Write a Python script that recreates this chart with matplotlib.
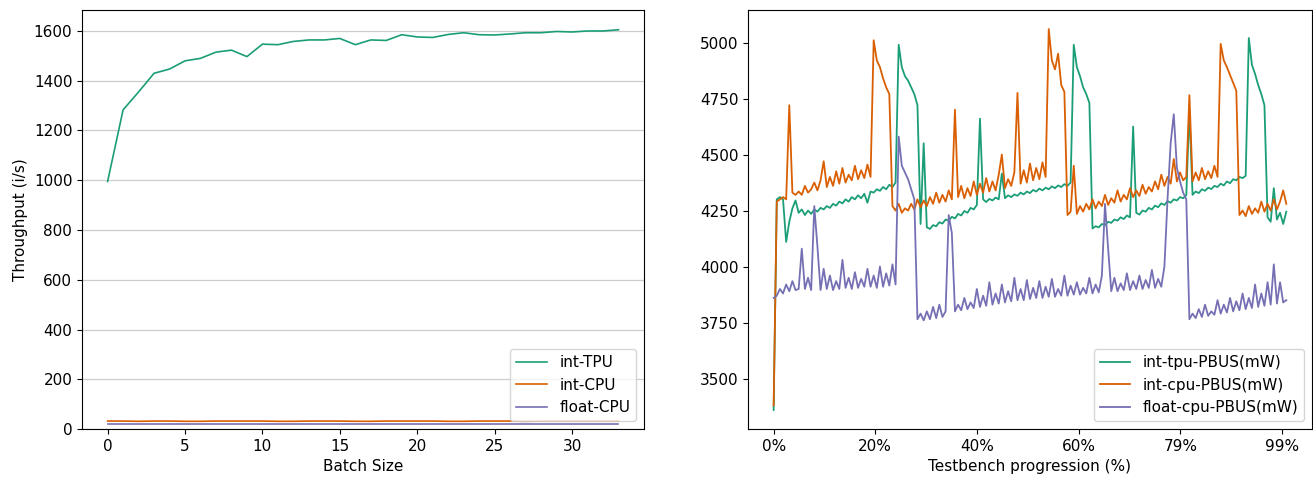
import numpy as np
import matplotlib
matplotlib.use("Agg")
import matplotlib.pyplot as plt

plt.rcParams['font.size'] = 11

colors = ["#1b9e77", "#d95f02", "#7570b3"]

# left panel: throughput vs batch size
batch = list(range(34))
int_tpu = [995, 1283, 1355, 1430, 1447, 1480, 1490, 1515, 1523, 1497,
           1547, 1545, 1558, 1564, 1564, 1570, 1545, 1564, 1562, 1585,
           1576, 1574, 1586, 1593, 1585, 1584, 1588, 1593, 1593, 1598,
           1596, 1600, 1600, 1605]
int_cpu = [32, 32, 31, 32, 32, 31, 31, 32, 32, 32,
           32, 31, 31, 32, 32, 32, 31, 31, 32, 32,
           32, 32, 31, 31, 32, 32, 32, 31, 32, 32,
           32, 32, 32, 32]
float_cpu = [19, 19, 19, 19, 19, 19, 19, 19, 19, 19,
             19, 19, 19, 19, 19, 19, 19, 19, 19, 19,
             19, 19, 19, 19, 19, 19, 19, 19, 19, 19,
             19, 19, 19, 19]

# right panel: PBUS power during the testbench (every ~61st sample)
total_samples = 10080
sample_step = 61.5

tpu_pbus = [3360, 4300, 4310, 4300, 4110, 4200, 4260, 4295, 4240, 4255,
            4230, 4250, 4235, 4255, 4245, 4262, 4255, 4270, 4262, 4280,
            4272, 4290, 4282, 4300, 4290, 4310, 4300, 4318, 4305, 4325,
            4285, 4335, 4330, 4345, 4338, 4355, 4345, 4365, 4355, 4375,
            4990, 4890, 4850, 4830, 4800, 4770, 4720, 4190, 4550, 4175,
            4168, 4185, 4180, 4198, 4192, 4210, 4205, 4222, 4215, 4235,
            4228, 4248, 4240, 4262, 4255, 4275, 4660, 4300, 4288, 4302,
            4295, 4308, 4300, 4415, 4305, 4318, 4310, 4322, 4316, 4330,
            4322, 4335, 4328, 4342, 4335, 4348, 4340, 4352, 4345, 4358,
            4350, 4362, 4355, 4368, 4360, 4375, 4990, 4890, 4850, 4800,
            4770, 4730, 4170, 4180, 4175, 4190, 4185, 4200, 4195, 4210,
            4205, 4220, 4212, 4228, 4220, 4625, 4240, 4232, 4250, 4245,
            4262, 4255, 4272, 4265, 4282, 4275, 4292, 4285, 4300, 4295,
            4310, 4305, 4318, 4700, 4320, 4335, 4328, 4345, 4338, 4352,
            4346, 4360, 4355, 4370, 4362, 4380, 4372, 4390, 4385, 4400,
            4395, 4405, 5020, 4900, 4860, 4810, 4770, 4720, 4220, 4200,
            4350, 4210, 4240, 4190, 4245]

cpu_pbus = [3380, 4290, 4300, 4310, 4300, 4720, 4330, 4320, 4335, 4320,
            4360, 4330, 4345, 4375, 4340, 4385, 4470, 4355, 4400, 4360,
            4425, 4370, 4440, 4375, 4410, 4385, 4450, 4390, 4430, 4395,
            4455, 4400, 5010, 4920, 4890, 4840, 4800, 4770, 4270, 4250,
            4280, 4240, 4260, 4250, 4280, 4255, 4300, 4265, 4295, 4270,
            4310, 4280, 4330, 4285, 4320, 4290, 4340, 4300, 4700, 4310,
            4360, 4305, 4350, 4315, 4380, 4320, 4370, 4330, 4395, 4335,
            4380, 4340, 4410, 4500, 4350, 4390, 4360, 4420, 4775, 4370,
            4430, 4375, 4460, 4385, 4440, 4390, 4465, 4400, 5060, 4920,
            4880, 4950, 4810, 4780, 4230, 4245, 4450, 4235, 4270, 4245,
            4280, 4255, 4300, 4260, 4290, 4270, 4320, 4275, 4305, 4285,
            4340, 4290, 4320, 4300, 4350, 4310, 4340, 4315, 4365, 4325,
            4355, 4335, 4380, 4345, 4410, 4360, 4400, 4370, 4480, 4380,
            4420, 4385, 4400, 4765, 4380, 4420, 4385, 4440, 4390, 4425,
            4395, 4450, 4400, 4994, 4920, 4890, 4855, 4820, 4785, 4230,
            4250, 4225, 4270, 4235, 4260, 4240, 4290, 4245, 4280, 4250,
            4300, 4255, 4290, 4340, 4280]

float_pbus = [3860, 3870, 3900, 3880, 3920, 3890, 3935, 3895, 3900, 4080,
              3900, 3950, 3895, 4270, 4090, 3895, 3990, 3900, 3960, 3895,
              3935, 3900, 4030, 3905, 3950, 3900, 3975, 3905, 3945, 3910,
              3990, 3910, 3960, 3905, 4000, 3910, 3970, 3915, 4010, 3920,
              4580, 4450, 4420, 4390, 4345, 4300, 3765, 3790, 3760, 3800,
              3765, 3820, 3770, 3830, 3775, 3800, 4230, 4150, 3800, 3830,
              3805, 3860, 3810, 3840, 3815, 3900, 3820, 3870, 3825, 3930,
              3830, 3880, 3835, 3920, 3840, 3890, 3845, 3950, 3850, 3900,
              3850, 3940, 3855, 3905, 3860, 3935, 3860, 3910, 3865, 3945,
              3865, 3900, 3870, 3960, 3870, 3915, 3875, 3930, 3875, 3905,
              3880, 3950, 3880, 3920, 3885, 3960, 4280, 4080, 3890, 3950,
              3890, 3925, 3895, 3970, 3895, 3935, 3900, 3960, 3900, 3940,
              3905, 3985, 3905, 3945, 3910, 4000, 4300, 4550, 4680, 4440,
              4380, 4330, 4300, 3765, 3790, 3770, 3810, 3775, 3830, 3780,
              3800, 3785, 3850, 3790, 3830, 3795, 3860, 3800, 3845, 3805,
              3880, 3810, 3860, 3815, 3920, 3820, 3880, 3825, 3930, 3830,
              4010, 3835, 3930, 3840, 3850]

fig = plt.figure(figsize=(13.13, 4.84), dpi=100)
ax1 = fig.add_axes([0.0625, 0.1136, 0.428, 0.8657])
ax2 = fig.add_axes([0.5697, 0.1136, 0.4295, 0.8657])

ax1.plot(batch, int_tpu, color=colors[0], lw=1.2, label="int-TPU")
ax1.plot(batch, int_cpu, color=colors[1], lw=1.2, label="int-CPU")
ax1.plot(batch, float_cpu, color=colors[2], lw=1.2, label="float-CPU")
ax1.set_ylim(bottom=0)
ax1.set_yticks(range(0, 1601, 200))
ax1.grid(True, axis='y', color='#cccccc', lw=0.9)
ax1.set_axisbelow(True)
ax1.set_xlabel("Batch Size")
ax1.set_ylabel("Throughput (i/s)")
ax1.legend(loc="lower right")

x = np.arange(len(tpu_pbus)) * sample_step
ax2.plot(x, tpu_pbus, color=colors[0], lw=1.3, label="int-tpu-PBUS(mW)")
ax2.plot(np.arange(len(cpu_pbus)) * sample_step, cpu_pbus, color=colors[1], lw=1.3, label="int-cpu-PBUS(mW)")
ax2.plot(np.arange(len(float_pbus)) * sample_step, float_pbus, color=colors[2], lw=1.3, label="float-cpu-PBUS(mW)")
ticks = list(range(0, total_samples, 2000))
ax2.set_xticks(ticks)
ax2.set_xticklabels([f"{round(t / total_samples * 100)}%" for t in ticks])
ax2.set_yticks(range(3500, 5001, 250))
ax2.set_xlabel("Testbench progression (%)")
ax2.legend(loc="lower right")

fig.savefig("out.png", dpi=100)
